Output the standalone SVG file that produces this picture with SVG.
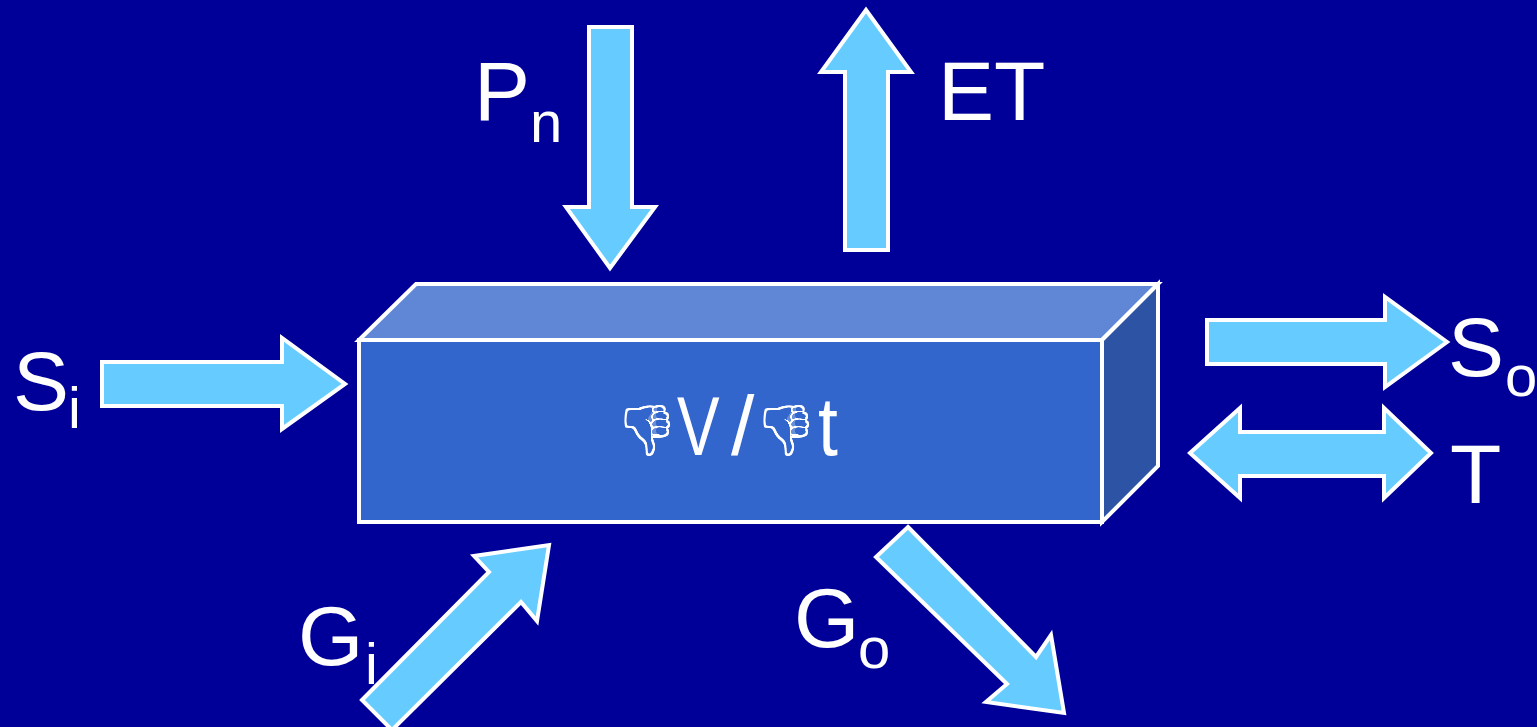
<svg xmlns="http://www.w3.org/2000/svg" width="1537" height="727" viewBox="0 0 1537 727">
<style>
.arr{fill:#66CCFF;stroke:#FFFFFF;stroke-width:4;stroke-linejoin:miter}
.face{stroke:#FFFFFF;stroke-width:4;stroke-linejoin:miter}
.lbl{font-family:"Liberation Sans",Arial,sans-serif;font-size:84px;fill:#FFFFFF}
.sub{font-family:"Liberation Sans",Arial,sans-serif;font-size:58px;fill:#FFFFFF}
.thumb{font-family:"Liberation Sans","DejaVu Sans",sans-serif;font-size:49px;fill:#FFFFFF;filter:url(#outline)}
</style>
<defs>
<filter id="outline" x="-20%" y="-20%" width="140%" height="140%" color-interpolation-filters="sRGB">
<feMorphology in="SourceAlpha" operator="erode" radius="1.6" result="er"/>
<feComposite in="SourceAlpha" in2="er" operator="out" result="edge"/>
<feColorMatrix in="SourceGraphic" type="matrix" values="0 0 0 0 0  0 0 0 0 0  0 0 0 0 0  0 -6 0 4.2 0" result="lines"/>
<feMerge result="m"><feMergeNode in="edge"/><feMergeNode in="lines"/></feMerge>
<feFlood flood-color="#FFFFFF"/>
<feComposite in2="m" operator="in"/>
</filter>
</defs>
<rect x="0" y="0" width="1537" height="727" fill="#000099"/>
<g id="box">
<polygon class="face" fill="#5F87D6" points="359,340 416,284 1158,284 1102,340"/>
<polygon class="face" fill="#2D53A5" points="1102,340 1158,284 1158,466 1102,522"/>
<rect class="face" fill="#3366CC" x="359" y="340" width="743" height="182"/>
<text class="thumb" x="616" y="447">👎</text>
<text class="lbl" transform="translate(677,455) scale(0.76,1)" x="0" y="0">V</text>
<text class="lbl" x="731" y="455">/</text>
<text class="thumb" x="755" y="447">👎</text>
<text class="lbl" transform="translate(818,455) scale(0.85,1)" x="0" y="0">t</text>
</g>
<g id="connectors">
<polygon id="arrow-si" class="arr" points="102,362 282,362 282,338 345,384 282,429 282,406 102,406"/>
<polygon id="arrow-pn" class="arr" points="589,27 632,27 632,207 655,207 610,268 566,207 589,207"/>
<polygon id="arrow-et" class="arr" points="845,250 845,72 821,72 866,10 911,72 888,72 888,250"/>
<polygon id="arrow-so" class="arr" points="1207,320 1385,320 1385,297 1447,342 1385,387 1385,364 1207,364"/>
<polygon id="arrow-t" class="arr" points="1190,453 1240,408 1240,432 1384,432 1384,408 1431,453 1384,498 1384,476 1240,476 1240,498"/>
<polygon id="arrow-gi" class="arr" points="362,700 489,572 474,556 549,545 537,621 521,602 392,730"/>
<polygon id="arrow-go" class="arr" points="908,527 1036,657 1051,635 1064,713 986,702 1007,684 876,557"/>
</g>
<g id="label-si"><text class="lbl" x="13" y="410">S</text><text class="sub" x="68" y="428">i</text></g>
<g id="label-pn"><text class="lbl" x="474" y="120">P</text><text class="sub" x="530" y="142">n</text></g>
<g id="label-et"><text class="lbl" x="938" y="120">ET</text></g>
<g id="label-so"><text class="lbl" x="1448" y="376">S</text><text class="sub" x="1505" y="396">o</text></g>
<g id="label-t"><text class="lbl" x="1450" y="503">T</text></g>
<g id="label-gi"><text class="lbl" x="298" y="665">G</text><text class="sub" x="365" y="684">i</text></g>
<g id="label-go"><text class="lbl" x="794" y="647">G</text><text class="sub" x="858" y="668">o</text></g>
</svg>
